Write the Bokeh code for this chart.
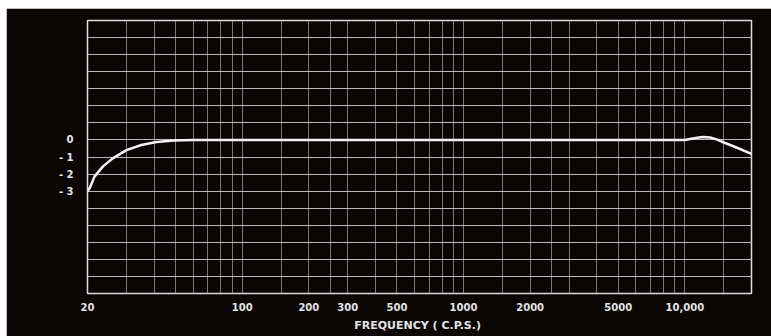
from bokeh.plotting import figure
from bokeh.models import FixedTicker, Range1d
from bokeh.embed import file_html
from bokeh.resources import INLINE

# Frequency response (dB)
freq = [20, 20.5, 21.5, 23.5, 26, 30, 35, 41, 49, 60, 100, 1000, 10000,
        11000, 12000, 13000, 14000, 15000, 17000, 20000]
db = [-3.0, -2.8, -2.15, -1.55, -1.08, -0.6, -0.3, -0.12, -0.04, 0, 0, 0, 0,
      0.1, 0.17, 0.15, 0.02, -0.15, -0.43, -0.82]

x_tick_vals = [20, 100, 200, 300, 500, 1000, 2000, 5000, 10000]
x_tick_labels = ["20", "100", "200", "300", "500", "1000", "2000", "5000", "10,000"]
x_grid_vals = [20, 30, 40, 50, 60, 70, 80, 90, 100, 150, 200, 250, 300, 400, 500,
               600, 700, 800, 900, 1000, 1500, 2000, 2500, 3000, 4000, 5000, 6000,
               7000, 8000, 9000, 10000, 15000, 20000]
y_tick_vals = [0, -1, -2, -3]
y_tick_labels = ["0", "- 1", "- 2", "- 3"]
y_grid_vals = list(range(-9, 8))
x_title = "FREQUENCY  ( C.P.S.)"

BG = "#0a0606"
FG = "#e4e4e4"
FONT = "DejaVu Sans"

p = figure(width=765, height=328, x_axis_type="log",
           x_range=Range1d(20, 20000), y_range=Range1d(-9, 7),
           output_backend="svg", toolbar_location=None,
           min_border_left=81, min_border_right=20,
           min_border_top=12, min_border_bottom=43)
p.margin = (8, 0, 0, 6)

p.background_fill_color = BG
p.border_fill_color = BG
p.outline_line_color = "#dcdcdc"
p.outline_line_width = 1.5

p.xgrid.ticker = FixedTicker(ticks=x_grid_vals)
p.xgrid.grid_line_color = "#a8a8a8"
p.xgrid.grid_line_alpha = 0.7
p.xgrid.grid_line_width = 1
p.ygrid.ticker = FixedTicker(ticks=y_grid_vals)
p.ygrid.grid_line_color = "#cccccc"
p.ygrid.grid_line_alpha = 0.9
p.ygrid.grid_line_width = 1

xa = p.xaxis[0]
xa.ticker = FixedTicker(ticks=x_tick_vals)
xa.major_label_overrides = {v: s for v, s in zip(x_tick_vals, x_tick_labels)}
xa.axis_line_color = None
xa.major_tick_line_color = None
xa.minor_tick_line_color = None
xa.major_label_standoff = 3
xa.major_label_text_color = FG
xa.major_label_text_font = FONT
xa.major_label_text_font_style = "bold"
xa.major_label_text_font_size = "10px"
xa.axis_label = x_title
xa.axis_label_text_color = FG
xa.axis_label_text_font = FONT
xa.axis_label_text_font_style = "bold"
xa.axis_label_text_font_size = "11px"
xa.axis_label_standoff = 5

ya = p.yaxis[0]
ya.ticker = FixedTicker(ticks=y_tick_vals)
ya.major_label_overrides = {v: s for v, s in zip(y_tick_vals, y_tick_labels)}
ya.axis_line_color = None
ya.major_tick_line_color = None
ya.minor_tick_line_color = None
ya.major_label_standoff = 8
ya.major_label_text_color = FG
ya.major_label_text_font = FONT
ya.major_label_text_font_style = "bold"
ya.major_label_text_font_size = "10px"

p.line(freq, db, line_color="#f4f4f4", line_width=2.5)

open("out.html", "w").write(file_html(p, INLINE))
